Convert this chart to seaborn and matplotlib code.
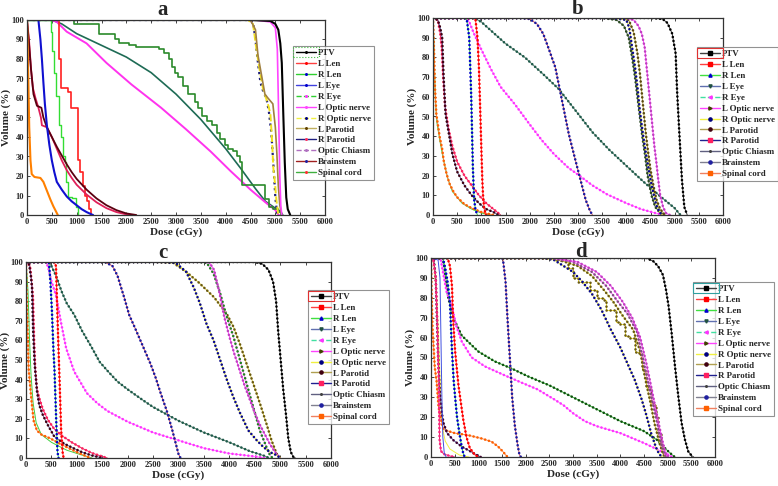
import matplotlib
matplotlib.use('Agg')
import matplotlib.pyplot as plt
from matplotlib.lines import Line2D
from matplotlib.patches import Rectangle
from matplotlib.transforms import IdentityTransform
import seaborn as sns
import pandas as pd

# DVH curves: (dose cGy, volume %)
labels = ['PTV', 'L Len', 'R Len', 'L Eye', 'R Eye', 'L Optic nerve', 'R Optic nerve',
          'L Parotid', 'R Parotid', 'Optic Chiasm', 'Brainstem', 'Spinal cord']

# ---- panel a ----
a_ptv = [(0, 100), (4500, 100), (4900, 99.5), (5000, 98), (5060, 95), (5100, 88), (5130, 78),
         (5160, 52), (5190, 27), (5220, 9), (5250, 3), (5300, 0)]
a_l_len = [(0, 100), (645, 80), (685, 65), (830, 63), (895, 55), (1030, 28), (1065, 22),
           (1125, 15), (1170, 10), (1200, 7), (1250, 3), (1290, 0)]
a_r_len = [(0, 100), (490, 94), (510, 84), (540, 73), (590, 61), (650, 46), (690, 40), (720, 30),
           (760, 27), (790, 17), (820, 9), (900, 8.5), (980, 4), (1030, 0)]
a_l_eye = [(0, 100), (230, 100), (270, 90), (300, 80), (330, 68), (360, 57), (400, 46), (450, 36),
           (500, 28), (550, 22), (600, 17), (700, 13), (800, 9.5), (900, 7), (1000, 5), (1100, 3),
           (1200, 1.5), (1300, 0.3), (1330, 0)]
a_r_eye = [(0, 100), (15, 85), (30, 65), (45, 45), (70, 28), (95, 21), (150, 19.5), (270, 19),
           (330, 17), (400, 12.5), (470, 8), (530, 4.5), (580, 2), (620, 0)]
a_l_optic = [(0, 100), (500, 100), (600, 99), (800, 94), (1200, 88), (1600, 78), (2100, 67),
             (2700, 55), (3200, 44), (3700, 32.5), (4100, 22.5), (4500, 13), (4800, 6.5),
             (5000, 2.5), (5070, 0)]
a_r_optic = [(0, 100), (4450, 100), (4550, 98), (4620, 85), (4680, 75), (4750, 65), (4850, 57),
             (4900, 52), (4930, 40), (4960, 24), (4990, 17), (5020, 8), (5060, 0)]
a_l_parotid = [(0, 100), (4500, 100), (4600, 95), (4650, 82), (4720, 72), (4790, 62), (4850, 60),
               (4950, 57), (5000, 45), (5030, 32), (5060, 15), (5090, 5), (5130, 0)]
a_r_parotid = [(0, 100), (4450, 100), (4550, 99), (4600, 90), (4650, 78), (4700, 68), (4760, 63),
               (4820, 60), (4870, 53), (4920, 42), (4950, 30), (4980, 18), (5000, 9), (5030, 2),
               (5050, 0)]
a_chiasm = [(0, 100), (4600, 100), (4900, 99), (5000, 96), (5040, 85), (5060, 60), (5075, 40),
            (5090, 20), (5110, 5), (5130, 0)]
a_brainstem = [(0, 100), (40, 88), (80, 75), (130, 62), (200, 56), (290, 55), (330, 50),
               (400, 45), (500, 40), (600, 35), (700, 30.5), (800, 26), (900, 22), (1000, 18.5),
               (1200, 13), (1400, 8.5), (1600, 5), (1800, 2.5), (2000, 0.8), (2200, 0)]
a_crimson = [(0, 100), (40, 90), (80, 75), (120, 65), (170, 60), (230, 55), (280, 50), (300, 46),
             (400, 45), (500, 40), (600, 34), (700, 28), (800, 23), (900, 19), (1000, 15.5),
             (1200, 10.5), (1400, 6.5), (1600, 3.5), (1800, 1.5), (2000, 0.3), (2100, 0)]
a_teal = [(0, 100), (500, 100), (700, 98), (1000, 93), (1500, 87), (2000, 81), (2500, 73),
          (3000, 62), (3500, 49), (4000, 34), (4300, 24), (4600, 13.5), (4800, 7), (5000, 3.5),
          (5100, 2), (5150, 0)]
a_spinal = [(0, 100), (950, 98), (1450, 93), (1780, 90), (1850, 88), (2050, 87), (2200, 86),
            (2650, 85), (2750, 83), (2850, 80), (2920, 76), (2980, 73), (3050, 71), (3150, 66),
            (3250, 62), (3380, 58), (3450, 55), (3530, 51), (3620, 48), (3720, 46), (3830, 42),
            (3880, 39), (3980, 36), (4050, 34), (4150, 33), (4230, 30), (4280, 27), (4330, 15.5),
            (4800, 8), (4870, 4), (4950, 3), (5050, 1.5), (5120, 0)]

# ---- panel b ----
b_ptv = [(0, 100), (4500, 100), (4750, 99.5), (4850, 97.5), (4950, 92), (5020, 82), (5050, 63),
         (5100, 40), (5150, 18), (5200, 4), (5260, 0)]
b_l_len = [(0, 100), (850, 100), (880, 99), (920, 90), (950, 75), (975, 55), (1000, 34),
           (1020, 18), (1035, 10), (1060, 3), (1100, 0)]
b_r_len = [(0, 100), (650, 100), (700, 99), (750, 90), (790, 61), (810, 40), (825, 24), (850, 8),
           (880, 2.5), (920, 0)]
b_l_eye = [(0, 100), (850, 100), (1000, 98), (1500, 87), (1900, 80), (2300, 71), (2600, 64),
           (2950, 53), (3300, 42), (3650, 33), (4000, 25), (4350, 17), (4700, 9.5), (5000, 3.5),
           (5100, 0.5), (5130, 0)]
b_r_eye = [(0, 100), (700, 100), (750, 98), (850, 92), (1000, 84), (1200, 74), (1400, 65),
           (1700, 56), (2000, 46), (2250, 38), (2500, 31), (2800, 24), (3000, 20.5), (3300, 15),
           (3600, 10.5), (4000, 6), (4300, 3), (4600, 1), (4800, 0)]
b_l_optic = [(0, 100), (4000, 100), (4150, 99), (4250, 96), (4320, 92), (4380, 85), (4420, 75),
             (4460, 65), (4500, 55), (4540, 45), (4580, 35), (4620, 27), (4660, 18), (4700, 10),
             (4760, 4), (4820, 1), (4900, 0)]
b_r_optic = [(0, 100), (3700, 100), (4000, 99), (4060, 95), (4120, 85), (4180, 75), (4230, 65),
             (4270, 55), (4310, 47), (4350, 40), (4400, 32), (4450, 25), (4500, 18), (4560, 11),
             (4620, 5), (4700, 1), (4750, 0)]
b_olive = [(0, 100), (3900, 100), (4050, 99), (4150, 93), (4230, 82), (4280, 72), (4320, 62),
           (4360, 52), (4400, 42), (4450, 32), (4500, 23), (4560, 15), (4620, 8), (4700, 3),
           (4800, 0)]
b_chiasm = [(0, 100), (3500, 100), (3800, 99), (3950, 96), (4050, 90), (4120, 80), (4180, 70),
            (4230, 60), (4280, 50), (4330, 40), (4390, 30), (4440, 20), (4520, 10), (4600, 4),
            (4700, 1), (4800, 0)]
b_brainstem = [(0, 100), (1800, 100), (2000, 99.5), (2150, 97), (2280, 92), (2400, 84),
               (2530, 75), (2670, 58), (2810, 41), (2980, 24.6), (3160, 7.6), (3250, 2), (3300, 0)]
b_l_parotid = [(0, 100), (100, 99), (150, 95), (190, 90), (220, 70), (260, 51), (330, 41),
               (400, 31), (500, 22), (650, 15), (800, 10), (950, 6), (1100, 3), (1250, 1.5),
               (1350, 0)]
b_r_parotid = [(0, 100), (100, 99), (150, 92), (180, 85), (210, 70), (250, 55), (320, 44),
               (400, 35), (500, 27), (650, 20), (800, 15), (950, 10), (1100, 6), (1250, 3),
               (1400, 0)]
b_spinal = [(0, 100), (20, 85), (40, 65), (70, 51), (140, 39.5), (190, 33.5), (225, 27),
            (280, 21), (340, 16), (420, 12), (500, 9), (650, 5.5), (800, 3.5), (1000, 1.5),
            (1250, 0)]
b_green = [(0, 100), (15, 90), (30, 75), (50, 58), (80, 47), (140, 38), (200, 30), (300, 19),
           (400, 12), (600, 6), (800, 3), (1000, 1), (1200, 0)]

# ---- panel c ----
c_ptv = [(0, 100), (4500, 100), (4650, 99), (4770, 96), (4860, 90), (4920, 80), (4960, 65),
         (5010, 50), (5060, 35), (5115, 22), (5160, 10), (5210, 3), (5260, 0.5), (5300, 0)]
c_l_len = [(0, 100), (550, 100), (590, 98), (610, 80), (630, 63), (660, 40), (690, 15), (720, 3),
           (740, 0)]
c_r_len = [(0, 100), (450, 100), (480, 90), (510, 75), (540, 55), (560, 45), (580, 30), (600, 15),
           (620, 3), (640, 0)]
c_l_eye = [(0, 100), (450, 100), (500, 98), (590, 93), (700, 85), (800, 79), (950, 73),
           (1100, 65), (1280, 57), (1450, 49), (1620, 44), (1800, 39), (2000, 35), (2300, 29.5),
           (2500, 26), (3000, 19), (3500, 13), (4000, 8), (4400, 3.5), (4700, 1), (4780, 0)]
c_r_eye = [(0, 100), (400, 100), (450, 96), (490, 91), (590, 83), (690, 69), (790, 56), (950, 44),
           (1200, 33), (1400, 28), (1600, 24), (2000, 18.5), (2500, 13), (3000, 9), (3500, 5),
           (4000, 2.3), (4500, 0.8), (4700, 0)]
c_l_optic = [(0, 100), (3600, 100), (3700, 96), (3800, 85), (3900, 72), (4000, 62), (4100, 53),
             (4200, 45), (4300, 37), (4400, 30), (4500, 23), (4600, 17), (4700, 12), (4800, 7),
             (4900, 3), (4980, 0.5), (5000, 0)]
c_r_optic = [(0, 100), (2700, 100), (2950, 99.5), (3150, 95), (3300, 87), (3420, 79), (3550, 68.5),
             (3690, 60), (3820, 50), (3950, 40), (4080, 31), (4210, 23), (4375, 14), (4540, 9),
             (4670, 5.6), (4800, 3), (4930, 1.4), (5000, 0)]
c_olive = [(0, 100), (2500, 100), (2900, 99.5), (3150, 95), (3400, 89.5), (3700, 82), (3950, 73.5),
           (4080, 67), (4210, 58), (4340, 48), (4470, 38), (4600, 28), (4730, 17.5), (4830, 9),
           (4930, 2.2), (5000, 0)]
c_chiasm = [(0, 100), (3400, 100), (3560, 99.5), (3690, 94), (3820, 84), (3950, 72), (4080, 62),
            (4210, 50), (4340, 38), (4470, 26), (4600, 14), (4730, 5.6), (4800, 1.4), (4850, 0)]
c_brainstem = [(0, 100), (1550, 100), (1700, 98), (1800, 93), (1930, 82), (2030, 73), (2150, 66),
               (2300, 57), (2450, 48), (2550, 41), (2650, 33), (2770, 24), (2880, 14), (2950, 7),
               (3000, 2), (3040, 0)]
c_l_parotid = [(0, 100), (60, 99), (100, 92), (118, 87), (140, 65), (170, 48), (216, 34),
               (260, 27), (330, 22), (425, 17), (555, 11), (750, 7.3), (950, 4.8), (1100, 3),
               (1280, 1.4), (1500, 0)]
c_r_parotid = [(0, 100), (80, 98), (110, 90), (138, 82), (160, 60), (183, 45), (216, 35),
               (268, 30), (330, 25), (430, 19.5), (550, 15), (700, 11.5), (900, 8), (1100, 5),
               (1300, 2.5), (1500, 0.8), (1600, 0)]
c_spinal = [(0, 100), (20, 75), (52, 45.5), (105, 30), (150, 19), (216, 14), (300, 12),
            (478, 10), (650, 7.5), (805, 5.5), (1000, 3), (1150, 1.3), (1270, 0)]
c_green = [(0, 100), (40, 85), (70, 60), (100, 42), (140, 28), (200, 18), (300, 12), (500, 8),
           (800, 4), (1100, 1.5), (1300, 0)]

# ---- panel d ----
d_ptv = [(0, 100), (4550, 100), (4700, 98.3), (4800, 95.8), (4900, 91.5), (4965, 84), (5020, 75.7),
         (5085, 62), (5155, 45.5), (5225, 30.5), (5295, 17), (5365, 8.7), (5435, 2.8),
         (5505, 0.7), (5550, 0)]
d_l_len = [(0, 100), (350, 100), (400, 96), (443, 86), (470, 68), (510, 53), (580, 36), (680, 19),
           (750, 10), (820, 4.5), (930, 1), (1000, 0)]
d_r_len = [(0, 100), (250, 100), (300, 95), (350, 88), (400, 78), (440, 55), (480, 38), (510, 30),
           (550, 20), (600, 12), (650, 5), (690, 1), (720, 0)]
d_l_eye = [(0, 100), (250, 100), (295, 93), (365, 80), (470, 70), (650, 61), (1000, 53),
           (1350, 48), (1700, 44.5), (2050, 40.5), (2500, 36), (3000, 30), (3500, 24), (4000, 18),
           (4500, 13), (4770, 8.7), (4900, 5.4), (5050, 2), (5150, 0)]
d_r_eye = [(0, 100), (200, 100), (260, 92), (330, 83), (435, 76), (540, 65.5), (650, 58),
           (860, 50), (1140, 45.5), (1560, 41), (1900, 37.5), (2250, 34), (2600, 29), (2800, 26),
           (3000, 22), (3250, 18), (3500, 15.5), (4000, 12), (4500, 7), (4900, 2.5), (5100, 0)]
d_l_optic = [(0, 100), (2600, 100), (3100, 98), (3500, 93), (3800, 86), (4050, 78), (4250, 70),
             (4420, 60), (4560, 46), (4680, 32), (4800, 18), (4900, 7), (4970, 1), (5020, 0)]
d_r_optic = [(0, 100), (2400, 100), (2600, 99), (2800, 96), (3000, 93), (3200, 88), (3400, 82),
             (3600, 74), (3800, 64), (4000, 55), (4150, 47), (4300, 39), (4450, 29), (4550, 21),
             (4650, 12), (4750, 5), (4820, 1.5), (4880, 0)]
d_olive = [(0, 100), (2300, 100), (2700, 99), (3100, 96), (3400, 91), (3650, 84), (3850, 78),
           (4050, 71), (4270, 64), (4420, 53), (4520, 40), (4630, 28), (4730, 16), (4840, 6),
           (4910, 1), (4950, 0)]
d_yellow_step = [(0, 100), (2300, 100), (2600, 99), (2900, 95), (3000, 90), (3100, 88),
                 (3350, 84), (3500, 80), (3650, 79), (3700, 74), (3850, 74), (3900, 68),
                 (4000, 67), (4100, 61), (4200, 60), (4300, 53), (4400, 52), (4450, 44),
                 (4500, 43), (4550, 35), (4600, 34), (4650, 27), (4700, 26), (4750, 20),
                 (4800, 12), (4850, 6), (4900, 2), (4950, 0)]
d_chiasm = [(0, 100), (2500, 100), (3000, 98), (3400, 93), (3700, 86), (3950, 78), (4150, 72),
            (4350, 63), (4490, 48), (4630, 33), (4770, 18), (4870, 6), (4940, 1), (5000, 0)]
d_brainstem = [(0, 100), (1450, 100), (1520, 99.5), (1575, 88), (1615, 70), (1665, 50),
               (1715, 30), (1770, 16), (1830, 6), (1870, 1), (1900, 0)]
d_l_parotid = [(0, 100), (60, 99), (100, 90), (125, 70), (155, 48), (185, 33), (230, 22),
               (265, 17), (340, 12), (470, 8.5), (650, 5.2), (820, 3), (950, 1.2), (1050, 0)]
d_r_parotid = [(0, 100), (50, 99), (100, 90), (130, 70), (150, 50), (165, 38), (175, 20),
               (180, 9), (210, 3), (270, 1.5), (400, 0.5), (500, 0)]
d_spinal = [(0, 100), (15, 80), (34, 64), (80, 45), (118, 38), (160, 25), (224, 17.7),
            (260, 14), (300, 13.5), (500, 12), (780, 11), (1070, 9.3), (1280, 7.7), (1420, 5.2),
            (1520, 2.7), (1590, 0.7), (1620, 0)]
d_blue = [(0, 100), (150, 99), (190, 90), (210, 60), (230, 30), (250, 10), (280, 2), (320, 0)]
d_yellow_low = [(0, 100), (60, 98), (120, 80), (160, 60), (190, 40), (210, 25), (240, 15),
                (300, 8), (400, 4), (600, 1), (800, 0)]

sns.set_style('ticks')
plt.rcParams['font.family'] = ['Liberation Serif', 'DejaVu Serif']
plt.rcParams['font.weight'] = 'bold'

fig = plt.figure(figsize=(7.78, 4.86), dpi=100)
W, H = 778, 486


def add_axes(x0, x1, y0, y1):
    return fig.add_axes([x0 / W, 1 - y1 / H, (x1 - x0) / W, (y1 - y0) / H])


def curve(ax, pts, lc, mc=None, lw=0.7, ls='-', step=False):
    df = pd.DataFrame(pts, columns=['dose', 'vol'])
    ds = 'steps-post' if step else 'default'
    sns.lineplot(data=df, x='dose', y='vol', ax=ax, color=lc, linewidth=lw, linestyle=ls,
                 drawstyle=ds, sort=False, estimator=None, legend=False)
    if mc is not None:
        # chain of small markers along the curve
        sns.lineplot(data=df, x='dose', y='vol', ax=ax, color=mc, linewidth=1.9,
                     linestyle=(0, (0.01, 1.5)), dash_capstyle='round', drawstyle=ds,
                     sort=False, estimator=None, legend=False)


def setup(ax):
    ax.set_xlim(0, 6000)
    ax.set_ylim(0, 100)
    ax.set_xticks(range(0, 6001, 500))
    ax.set_yticks(range(0, 101, 10))
    ax.tick_params(direction='in', top=True, right=True, length=2.5, width=0.6,
                   labelsize=6, pad=2)
    ax.set_xlabel('Dose (cGy)', fontsize=8, fontweight='bold', labelpad=1)
    ax.set_ylabel('Volume (%)', fontsize=8, fontweight='bold', labelpad=0)
    for s in ax.spines.values():
        s.set_linewidth(0.9)
        s.set_color('#333333')


def legend(ax, styles, x0, y0):
    handles = [Line2D([0], [0], color=c, ls=ls, lw=1.0, marker=m, markersize=2.3,
                      markerfacecolor=mc, markeredgecolor=mc) for c, ls, m, mc in styles]
    leg = ax.legend(handles, labels, loc='upper left', bbox_to_anchor=(x0 / W, 1 - y0 / H),
                    bbox_transform=fig.transFigure, fontsize=6.4, frameon=True, fancybox=False,
                    borderpad=0.35, labelspacing=0.3, handlelength=2.2, handletextpad=0.3,
                    borderaxespad=0)
    leg.get_frame().set_edgecolor('#777777')
    leg.get_frame().set_linewidth(0.8)
    return leg


# ---------- a ----------
ax = add_axes(27, 325, 20, 215)
curve(ax, a_teal, '#1e6b55', lw=1.2)
curve(ax, a_l_optic, '#ff33ee', lw=1.4)
curve(ax, a_spinal, '#2b8a2b', lw=1.2, step=True)
curve(ax, a_r_parotid, '#20207a', lw=1.6, ls=':')
curve(ax, a_r_optic, '#f0e020', lw=1.4, ls='--')
curve(ax, a_l_parotid, '#a08040', lw=1.2)
curve(ax, a_chiasm, '#ff44ff', lw=1.2)
curve(ax, a_ptv, '#000000', lw=1.5)
curve(ax, a_l_len, '#ff2020', lw=1.2, step=True)
curve(ax, a_r_len, '#33dd33', lw=1.0, step=True)
curve(ax, a_crimson, '#e0205a', lw=1.3)
curve(ax, a_brainstem, '#5a0010', lw=1.3)
curve(ax, a_l_eye, '#1010d0', lw=1.5)
curve(ax, a_r_eye, '#ff8000', lw=1.5)
setup(ax)
fig.text(163 / W, 1 - 10 / H, 'a', ha='center', va='center', fontsize=15, fontweight='bold')
leg_a = legend(ax, [('#000000', '-', '.', '#000000'), ('#ff4040', '-', '.', '#ff0000'),
                    ('#30d030', '-', '.', '#0000cc'), ('#4040e0', '-', '.', '#0000cc'),
                    ('#30d030', '--', '.', '#ff33ff'), ('#ff44ff', '-', '.', '#ff44ff'),
                    ('#f0f040', '--', '.', '#000080'), ('#c0b060', '-', '.', '#604000'),
                    ('#202080', '-', '.', '#ff3060'), ('#b070c0', '--', '.', '#b070c0'),
                    ('#a02020', '-', '.', '#2020a0'), ('#40b040', '-', '.', '#ff3030')], 293, 46)

bcd_styles = [('#404040', '-', 's', '#000000'), ('#ff4040', '-', 's', '#ff0000'),
              ('#40e040', '-', '^', '#0000cc'), ('#6070b0', '-', 'v', '#205040'),
              ('#40e0a0', '--', '<', '#ff33ff'), ('#ff44ff', '-', '>', '#404000'),
              ('#f0f040', '-', 'o', '#000080'), ('#b0a050', '-', 'o', '#400010'),
              ('#202090', '-', 's', '#ff2060'), ('#606080', '-', '.', '#404040'),
              ('#808090', '-', 'o', '#2020a0'), ('#f08060', '-', 's', '#ff6000')]

# ---------- b ----------
ax = add_axes(433, 723, 18, 215)
curve(ax, b_l_eye, '#608070', '#1e5b4b')
curve(ax, b_r_eye, '#ff88ff', '#ff33ff')
curve(ax, b_brainstem, '#e06060', '#1a1aa0')
curve(ax, b_chiasm, '#506050', '#2a4a20')
curve(ax, b_olive, '#c0b050', '#5a4a10')
curve(ax, b_r_optic, '#f0f040', '#0a0a8a')
curve(ax, b_l_optic, '#ff44ff', '#c040c0')
curve(ax, b_ptv, '#404040', '#000000')
curve(ax, b_green, '#40d040')
curve(ax, b_spinal, '#f09060', '#ff6000')
curve(ax, b_r_parotid, '#e03060', '#ff2060')
curve(ax, b_l_parotid, '#6060a0', '#400010')
curve(ax, b_r_len, '#40e040', '#0000cc')
curve(ax, b_l_len, '#ff4040', '#ff0000')
setup(ax)
fig.text(578 / W, 1 - 9 / H, 'b', ha='center', va='center', fontsize=15, fontweight='bold')
leg_b = legend(ax, bcd_styles, 697, 47)

# ---------- c ----------
ax = add_axes(26, 331, 262, 458)
curve(ax, c_l_eye, '#608070', '#1e5b4b')
curve(ax, c_r_eye, '#ff88ff', '#ff33ff')
curve(ax, c_brainstem, '#e06060', '#1a1aa0')
curve(ax, c_olive, '#e0d050', '#6a5a10')
curve(ax, c_chiasm, '#ff88ff', '#208020')
curve(ax, c_l_optic, '#ff44ff', '#c040c0')
curve(ax, c_r_optic, '#f0f040', '#0a0a8a')
curve(ax, c_ptv, '#404040', '#000000')
curve(ax, c_green, '#40d040')
curve(ax, c_spinal, '#f09060', '#ff6000')
curve(ax, c_r_parotid, '#e03060', '#ff2060')
curve(ax, c_l_parotid, '#6060a0', '#400010')
curve(ax, c_r_len, '#40e040', '#0000cc')
curve(ax, c_l_len, '#ff4040', '#ff0000')
setup(ax)
fig.text(163 / W, 1 - 253 / H, 'c', ha='center', va='center', fontsize=15, fontweight='bold')
leg_c = legend(ax, bcd_styles, 308, 290)

# ---------- d ----------
ax = add_axes(431, 715, 258, 457)
curve(ax, d_l_eye, '#40c040', '#105010')
curve(ax, d_r_eye, '#ff88ff', '#ff33ff')
curve(ax, d_brainstem, '#e06060', '#1a1aa0')
curve(ax, d_yellow_step, '#f0e040', '#6a5a10', step=True)
curve(ax, d_olive, '#e0d050', '#6a5a10')
curve(ax, d_r_optic, '#f0f040', '#0a0a8a')
curve(ax, d_chiasm, '#ff66ff', '#805080')
curve(ax, d_l_optic, '#ff44ff', '#c040c0')
curve(ax, d_ptv, '#404040', '#000000')
curve(ax, d_yellow_low, '#f0f040')
curve(ax, d_spinal, '#f09060', '#ff6000')
curve(ax, d_l_parotid, '#6060a0', '#400030')
curve(ax, d_r_parotid, '#e03060', '#ff2080')
curve(ax, d_blue, '#4050e0')
curve(ax, d_r_len, '#40e040', '#0000cc')
curve(ax, d_l_len, '#ff4040', '#ff0000')
setup(ax)
fig.text(581 / W, 1 - 252 / H, 'd', ha='center', va='center', fontsize=15, fontweight='bold')
leg_d = legend(ax, bcd_styles, 693, 282)

# small highlight box around the PTV legend handle, as in the original
fig.canvas.draw()
renderer = fig.canvas.get_renderer()
for leg, box_color, box_ls in [(leg_a, '#40c040', ':'), (leg_b, '#e03030', '-'),
                               (leg_c, '#e03030', '-'), (leg_d, '#30a0a0', '-')]:
    bb = leg.legend_handles[0].get_window_extent(renderer)
    yc = (bb.y0 + bb.y1) / 2
    fig.add_artist(Rectangle((bb.x0 - 2, yc - 5), bb.width + 4, 10, transform=IdentityTransform(),
                             fill=False, ec=box_color, lw=0.8, ls=box_ls))

fig.savefig('out.png', dpi=100)
